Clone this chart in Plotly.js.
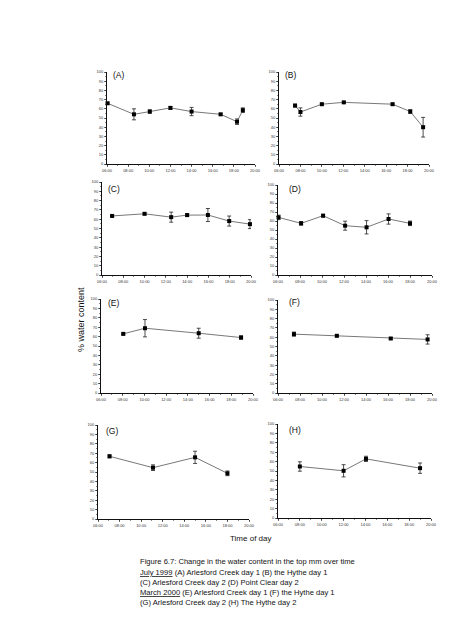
<!DOCTYPE html>
<html><head><meta charset="utf-8">
<script src="https://cdn.plot.ly/plotly-3.0.1.min.js"></script>
<style>html,body{margin:0;padding:0;background:#fff}</style>
</head><body><div id="chart" style="width:453px;height:640px"></div>
<script>
// ---- data (hours of day, % water content, error) ----
const timeA = [6.05, 8.55, 10.05, 12.0, 14.0, 16.75, 18.3, 18.85];
const waterA = [66, 54, 57, 61, 57, 54, 46, 58.5];
const errA = [1, 6, 1.8, 1.5, 4.5, 1, 3, 2.5];

const timeB = [7.5, 8.0, 10.0, 12.05, 16.6, 18.25, 19.45];
const waterB = [63.5, 56.5, 65, 67, 65, 57, 40];
const errB = [1.5, 4.5, 1, 1, 1, 2, 10.7];

const timeC = [6.95, 10.0, 12.5, 14.0, 15.95, 17.95, 19.9];
const waterC = [63.5, 65.8, 62.2, 64.4, 64.5, 58, 54.7];
const errC = [1, 1, 5.4, 1.5, 7, 5.4, 4.8];

const timeD = [6.05, 8.1, 10.1, 12.1, 14.05, 16.05, 18.0];
const waterD = [64, 57.4, 65.9, 54.8, 53, 62.2, 57.4];
const errD = [2.5, 2, 1.5, 5, 7.4, 5.7, 2.5];

const timeE = [8.05, 10.05, 15.0, 18.9];
const waterE = [62.9, 68.9, 63.6, 59];
const errE = [1, 9.2, 5.3, 1.8];

const timeF = [7.45, 11.35, 16.25, 19.6];
const waterF = [63.3, 61.5, 58.6, 57.6];
const errF = [2.2, 1, 1, 5];

const timeG = [7.07, 11.1, 15.0, 18.0];
const waterG = [66.7, 54.6, 65.6, 48.6];
const errG = [1.5, 3, 6.5, 2.5];

const timeH = [8.0, 12.0, 14.05, 19.0];
const waterH = [54.8, 50.2, 62.9, 53];
const errH = [5, 6.5, 2.8, 5.5];

const panelNames = ['(A)', '(B)', '(C)', '(D)', '(E)', '(F)', '(G)', '(H)'];
const hourTicks = [6, 8, 10, 12, 14, 16, 18, 20];
const hourLabels = ['06:00', '08:00', '10:00', '12:00', '14:00', '16:00', '18:00', '20:00'];
const waterTicks = [0, 10, 20, 30, 40, 50, 60, 70, 80, 90, 100];

const yTitle = '% water content';
const xTitle = 'Time of day';
const captionLines = [
  'Figure 6.7: Change in the water content in the top mm over time',
  '<u>July 1999</u> (A) Arlesford Creek day 1 (B) the Hythe day 1',
  '(C) Arlesford Creek day 2 (D) Point Clear day 2',
  '<u>March 2000</u> (E) Arlesford Creek day 1 (F) the Hythe day 1',
  '(G) Arlesford Creek day 2 (H) The Hythe day 2'
];

// ---- layout geometry (pixels) ----
const W = 453, H = 640;
const boxes = [
  [107, 255, 72, 164],
  [279, 429, 72, 164],
  [102, 251, 182, 275],
  [278, 432, 185, 275],
  [101, 253, 299, 393],
  [278, 432, 300, 393],
  [98, 249, 425, 519],
  [278, 431, 424, 518]
];
const labelPos = [[111, 75.5], [283, 75], [106, 188.5], [287, 189], [106, 303], [287, 302], [104, 430.5], [287, 430]];

const series = [
  [timeA, waterA, errA], [timeB, waterB, errB], [timeC, waterC, errC], [timeD, waterD, errD],
  [timeE, waterE, errE], [timeF, waterF, errF], [timeG, waterG, errG], [timeH, waterH, errH]
];

const FONT = 'Liberation Sans, Arial, sans-serif';
const traces = [];
const layout = {
  width: W, height: H,
  margin: {l: 0, r: 0, t: 0, b: 0},
  paper_bgcolor: '#fff', plot_bgcolor: 'rgba(0,0,0,0)',
  showlegend: false,
  font: {family: FONT, color: '#111'},
  annotations: []
};

series.forEach((s, i) => {
  const n = i === 0 ? '' : String(i + 1);
  traces.push({
    type: 'scatter', mode: 'lines+markers',
    x: s[0], y: s[1],
    xaxis: 'x' + n, yaxis: 'y' + n,
    line: {color: '#555', width: 0.8},
    marker: {symbol: 'square', size: 4, color: '#000'},
    error_y: {type: 'data', array: s[2], visible: true, color: '#222', thickness: 0.8, width: 2},
    cliponaxis: false
  });
  const b = boxes[i];
  layout['xaxis' + n] = {
    domain: [b[0] / W, b[1] / W], anchor: 'y' + n,
    range: [6, 20], tickmode: 'array', tickvals: hourTicks, ticktext: hourLabels,
    showline: true, linecolor: '#111', linewidth: 1, showgrid: false, zeroline: false,
    ticks: 'outside', ticklen: 2, tickwidth: 0.6, tickcolor: '#111',
    minor: {ticks: 'outside', ticklen: 1.2, dtick: 1, tickcolor: '#111', tickwidth: 0.5, tick0: 6},
    tickfont: {size: 4, color: '#333', family: FONT}, fixedrange: true
  };
  layout['yaxis' + n] = {
    domain: [1 - b[3] / H, 1 - b[2] / H], anchor: 'x' + n,
    range: [0, 100], tickmode: 'array', tickvals: waterTicks,
    showline: true, linecolor: '#111', linewidth: 1, showgrid: false, zeroline: false,
    ticks: 'outside', ticklen: 2, tickwidth: 0.6, tickcolor: '#111',
    minor: {ticks: 'outside', ticklen: 1.2, dtick: 5, tickcolor: '#111', tickwidth: 0.5, tick0: 0},
    tickfont: {size: 4, color: '#333', family: FONT}, fixedrange: true
  };
  layout.annotations.push({
    xref: 'paper', yref: 'paper', x: labelPos[i][0] / W, y: 1 - labelPos[i][1] / H,
    xanchor: 'left', yanchor: 'middle', showarrow: false,
    text: panelNames[i], font: {size: 8.5, family: FONT, color: '#111'}
  });
});

layout.annotations.push({
  xref: 'paper', yref: 'paper', x: 81 / W, y: 1 - 320 / H,
  xanchor: 'center', yanchor: 'middle', showarrow: false, textangle: -90,
  text: yTitle, font: {size: 9, family: FONT, color: '#111'}
});
layout.annotations.push({
  xref: 'paper', yref: 'paper', x: 251 / W, y: 1 - 538.5 / H,
  xanchor: 'center', yanchor: 'middle', showarrow: false,
  text: xTitle, font: {size: 8, family: FONT, color: '#111'}
});
const capY = [561.7, 572.3, 582.5, 592.3, 602.3];
captionLines.forEach((t, k) => {
  layout.annotations.push({
    xref: 'paper', yref: 'paper', x: 138 / W, y: 1 - capY[k] / H,
    xanchor: 'left', yanchor: 'middle', showarrow: false, align: 'left',
    text: t, font: {size: 7.6, family: FONT, color: '#111'}
  });
});

Plotly.newPlot('chart', traces, layout, {staticPlot: true, displayModeBar: false});
</script>
</body></html>
